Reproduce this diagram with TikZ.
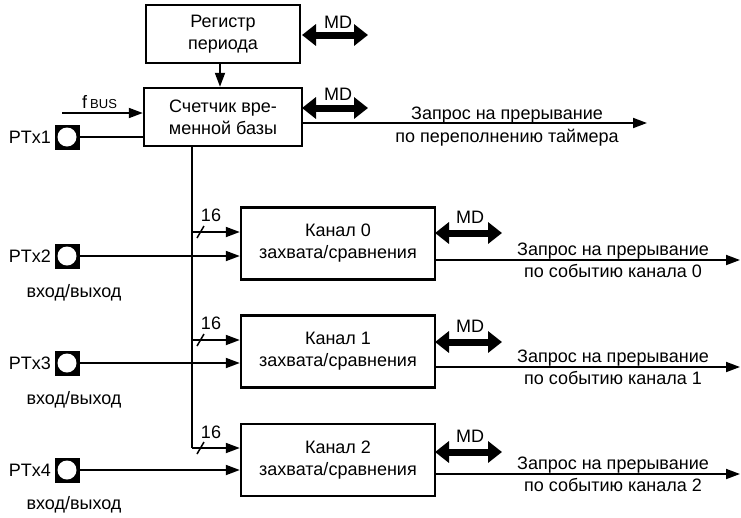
\documentclass[tikz,border=0pt]{standalone}
\usepackage{fontspec}
\setmainfont{Liberation Sans}
\usetikzlibrary{arrows.meta,calc}
\begin{document}
\begin{tikzpicture}[x=1pt,y=-1pt,
  every node/.style={font=\fontsize{18}{22}\selectfont, inner sep=0pt},
  block/.style={draw, line width=2.4pt, minimum width=194pt, minimum height=72pt, align=center},
  port/.style={fill=black, minimum size=25pt},
  wire/.style={line width=1.8pt},
  sig/.style={wire, -{Triangle[length=14pt,width=10pt]}},
  mdbus/.style={line width=7pt, {Triangle[length=14pt,width=21pt]}-{Triangle[length=14pt,width=21pt]}},
  slash/.style={line width=1.5pt},
]
\useasboundingbox (0,0) rectangle (741,517);

% timer blocks
\node[block, minimum width=154pt, minimum height=58pt] (reg) at (223,34) {Регистр\\периода};
\node[block, minimum width=158pt, minimum height=58pt] (cnt) at (223,117) {Счетчик вре-\\менной базы};

% capture/compare channels
\node[block] (ch0) at (338,243.5) {Канал 0\\захвата/сравнения};
\node[block] (ch1) at (338,351.5) {Канал 1\\захвата/сравнения};
\node[block] (ch2) at (338,460) {Канал 2\\захвата/сравнения};

% pins
\foreach \n/\y in {1/137,2/256,3/363,4/470}{
  \node[port] (pt\n) at (67,\y) {};
  \fill[white] (pt\n) circle (9.5pt);
  \node[anchor=east] (ptl\n) at (51,\y) {PTx\n};
}
\foreach \n/\y in {2/293,3/400,4/505}{
  \node (io\n) at (74,\y) {вход/выход};
}

% period register -> counter
\draw[sig] (reg.south -| 220,0) -- (cnt.north -| 220,0);

% bus clock input
\coordinate (fin) at (62,113);
\draw[sig] (fin) -- (fin -| cnt.west);
\node[anchor=base west] (fbus) at (82,108) {f\,\fontsize{13}{14}\selectfont BUS};

% PTx1 -> counter
\draw[wire] (pt1.east) -- (pt1.east -| cnt.west);

% MD data buses
\coordinate (md0) at (302,35);
\coordinate (md1) at (302,108);
\draw[mdbus] (md0) -- ++(66,0);
\draw[mdbus] (md1) -- ++(66,0);
\node (mdl0) at (338,22) {MD};
\node (mdl1) at (338,94) {MD};

% overflow interrupt request
\coordinate (ovf) at (647,123);
\draw[sig] (ovf -| cnt.east) -- (ovf);
\node[anchor=base] (ovt1) at (507,119) {Запрос на прерывание};
\node[anchor=base] (ovt2) at (507,142) {по переполнению таймера};

% 16-bit counter bus to the channels
\coordinate (bt) at (192,146);
\coordinate (j0) at (192,232);
\coordinate (j1) at (192,340);
\coordinate (j2) at (192,448);
\draw[wire] (bt) -- (j2);
\draw[sig] (j0) -- (j0 -| ch0.west);
\draw[sig] (j1) -- (j1 -| ch1.west);
\draw[sig] (j2) -- (j2 -| ch2.west);
\foreach \j in {0,1,2}{
  \draw[slash] ($(j\j)+(5,6)$) -- ($(j\j)+(12,-6)$);
}
\node (w0) at (211,215) {16};
\node (w1) at (211,323) {16};
\node (w2) at (211,432) {16};

% pins -> channels
\draw[sig] (pt2.east) -- (pt2.east -| ch0.west);
\draw[sig] (pt3.east) -- (pt3.east -| ch1.west);
\draw[sig] (pt4.east) -- (pt4.east -| ch2.west);

% channel data buses
\foreach \n/\y in {0/233,1/342,2/452}{
  \coordinate (cm\n) at (435,\y);
  \draw[mdbus] (cm\n) -- ++(67,0);
  \node (cml\n) at (470,\y-16) {MD};
}

% channel interrupt requests
\foreach \n/\y in {0/260,1/367,2/474}{
  \coordinate (ci\n) at (740,\y);
  \draw[sig] (ci\n -| ch\n.east) -- (ci\n);
  \node[anchor=base] (cit\n) at (613,\y-5) {Запрос на прерывание};
  \node[anchor=base] (cis\n) at (613,\y+17) {по событию канала \n};
}
\end{tikzpicture}
\end{document}
